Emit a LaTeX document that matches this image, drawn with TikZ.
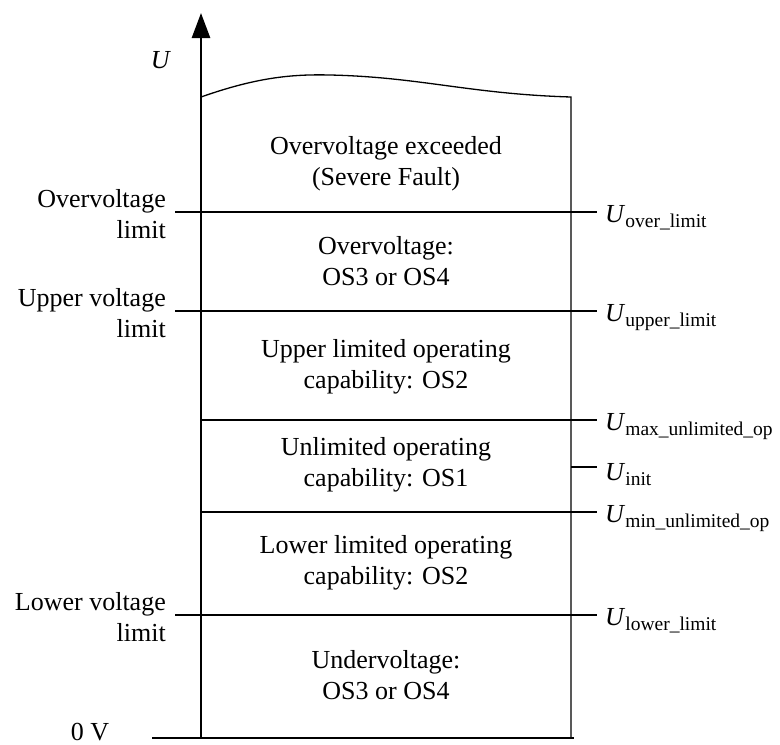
\documentclass[tikz,border=0pt]{standalone}
\usepackage{fontspec}
\setmainfont{Liberation Serif}
\usetikzlibrary{arrows.meta}

\newcommand{\Usub}[1]{\textit{U}\raisebox{-5pt}{\fontsize{19.5}{20}\selectfont #1}}

\begin{document}
\begin{tikzpicture}[
    x=1pt, y=-1pt,
    txt/.style={font=\fontsize{26}{31}\selectfont, inner sep=0pt},
    zone/.style={txt, align=center},
    lvl/.style={txt, align=right, anchor=east},
    sym/.style={txt, anchor=base west},
    bound/.style={line width=1.3pt},
    axis/.style={line width=2.6pt},
]
\useasboundingbox (0,0) rectangle (780,745);

% voltage axis and 0 V line
\coordinate (orig) at (201,738);
\coordinate (tip) at (201,13);
\draw[axis, -{Triangle[length=25pt,width=18pt]}] (orig) -- (tip);
\draw[axis] (152,738) -- (574,738);

% band outline, wavy top
\draw[bound] (201,97) .. controls (255,78) and (290,74) .. (330,75)
    .. controls (420,77) and (470,94) .. (571,97) -- (571,738);

% thresholds with symbols on the right
\foreach \y/\xs/\sub [count=\i] in {212/175/over\_limit,
        311/175/upper\_limit, 420/201/max\_unlimited\_op,
        512/201/min\_unlimited\_op, 615/175/lower\_limit} {
    \draw[bound] (\xs,\y) -- (597,\y);
    \node[sym] (u\i) at (605,\y+10) {\Usub{\sub}};
}
\draw[bound] (571,467) -- (597,467);
\node[sym] (uinit) at (605,480) {\Usub{init}};

% names of the limits on the left
\node[lvl] (lover) at (166,214) {Overvoltage\\limit};
\node[lvl] (lupper) at (166,313) {Upper voltage\\limit};
\node[lvl] (llower) at (166,617) {Lower voltage\\limit};
\node[txt] (zero) at (90,732) {0 V};
\node[txt] (ulab) at (161,60) {\textit{U}};

% operating states
\node[zone] (z1) at (386,164) {Overvoltage exceeded\\(Severe Fault)};
\node[zone] (z2) at (386,261) {Overvoltage:\\OS3 or OS4};
\node[zone] (z3) at (386,367) {Upper limited operating\\capability: OS2};
\node[zone] (z4) at (386,465) {Unlimited operating\\capability: OS1};
\node[zone] (z5) at (386,563) {Lower limited operating\\capability: OS2};
\node[zone] (z6) at (386,675) {Undervoltage:\\OS3 or OS4};

\end{tikzpicture}
\end{document}
